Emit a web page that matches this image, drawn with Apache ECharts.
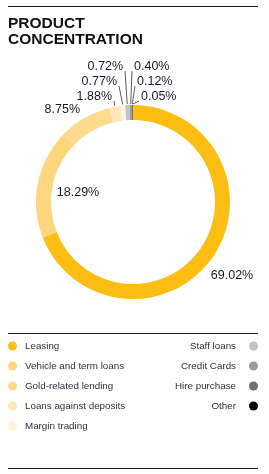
<!DOCTYPE html>
<html><head><meta charset="utf-8">
<script src="https://cdn.jsdelivr.net/npm/echarts@6/dist/echarts.min.js"></script>
<style>html,body{margin:0;padding:0;background:#fff}#c{width:269px;height:474px}</style>
</head><body><div id="c"></div>
<script>
const categories = ['Leasing','Vehicle and term loans','Gold-related lending','Loans against deposits','Margin trading','Staff loans','Credit Cards','Hire purchase','Other'];
const shares = [69.02, 18.29, 8.75, 1.88, 0.77, 0.72, 0.40, 0.12, 0.05];
const sliceColors = ['#FDBE14','#FED67E','#FEDB8E','#FEE8B9','#FFF3DD','#C2C2C2','#9B9B9B','#6F6F6F','#000000'];
const leftLegend = categories.slice(0, 5);
const rightLegend = categories.slice(5);

const FONT = '"Liberation Sans", Arial, sans-serif';
const CX = 133, CY = 202, R0 = 82, R1 = 97;
const total = shares.reduce((a, b) => a + b, 0);
function midAngle(i) { let s = 0; for (let k = 0; k < i; k++) s += shares[k]; return (s + shares[i] / 2) / total * 2 * Math.PI; }
function polar(a, r) { return [CX + Math.sin(a) * r, CY - Math.cos(a) * r]; }
const place = {
  0: {x: 232, y: 276, align: 'center'},
  1: {x: 78, y: 193, align: 'center'},
  2: {x: 80, y: 110, align: 'right'},
  3: {x: 112, y: 97, align: 'right', line: true},
  4: {x: 117, y: 82, align: 'right', line: true},
  5: {x: 123, y: 67, align: 'right', line: true},
  6: {x: 134, y: 67, align: 'left', line: true},
  7: {x: 137, y: 82, align: 'left', line: true},
  8: {x: 141, y: 97, align: 'left', line: true}
};

const chart = echarts.init(document.getElementById('c'), null, {renderer: 'canvas'});
const legendText = {fontSize: 9.8, color: '#30303f', lineHeight: 12, fontFamily: FONT};
chart.setOption({
  animation: false,
  title: {
    text: 'PRODUCT\nCONCENTRATION', left: 8, top: 15, padding: 0,
    textStyle: {fontSize: 15.5, fontWeight: 'bold', lineHeight: 16.5, color: '#111', fontFamily: FONT}
  },
  legend: [
    {data: leftLegend, orient: 'vertical', left: 8, top: 340, padding: 0, icon: 'circle',
     itemWidth: 9, itemHeight: 9, itemGap: 8, selectedMode: false,
     textStyle: Object.assign({}, legendText, {padding: [0, 0, 0, 3]})},
    {data: rightLegend, orient: 'vertical', right: 11, top: 340, padding: 0, align: 'right', icon: 'circle',
     itemWidth: 9, itemHeight: 9, itemGap: 8, selectedMode: false,
     textStyle: Object.assign({}, legendText, {padding: [0, 8, 0, 0]})}
  ],
  graphic: [
    {type: 'line', shape: {x1: 8, y1: 6.5, x2: 258, y2: 6.5}, style: {stroke: '#1a1a1a', lineWidth: 1}},
    {type: 'line', shape: {x1: 8, y1: 333.5, x2: 258, y2: 333.5}, style: {stroke: '#1a1a1a', lineWidth: 1}},
    {type: 'line', shape: {x1: 8, y1: 468.5, x2: 258, y2: 468.5}, style: {stroke: '#1a1a1a', lineWidth: 1}}
  ],
  series: [{
    type: 'pie',
    center: [CX, CY],
    radius: [R0, R1],
    startAngle: 90,
    clockwise: true,
    avoidLabelOverlap: false,
    silent: true,
    emphasis: {disabled: true},
    itemStyle: {borderWidth: 0},
    label: {show: true, position: 'outside', fontSize: 12.5, color: '#1a1a2a', fontFamily: FONT,
            formatter: p => p.value.toFixed(2) + '%'},
    labelLine: {show: true, length: 5, length2: 5, lineStyle: {color: '#333', width: 0.8}},
    labelLayout: function (p) {
      const i = p.dataIndex, pl = place[i];
      const res = {x: pl.x, y: pl.y, align: pl.align, verticalAlign: 'middle', hideOverlap: false};
      if (pl.line) {
        const s = polar(midAngle(i), R1 + 1);
        const ex = pl.align === 'right' ? pl.x + 2 : pl.x - 2;
        res.labelLinePoints = [s, [ex, pl.y + 4]];
      }
      return res;
    },
    data: categories.map((n, i) => ({
      name: n, value: shares[i], itemStyle: {color: sliceColors[i]},
      labelLine: {show: !!place[i].line}
    }))
  }]
});
</script></body></html>
